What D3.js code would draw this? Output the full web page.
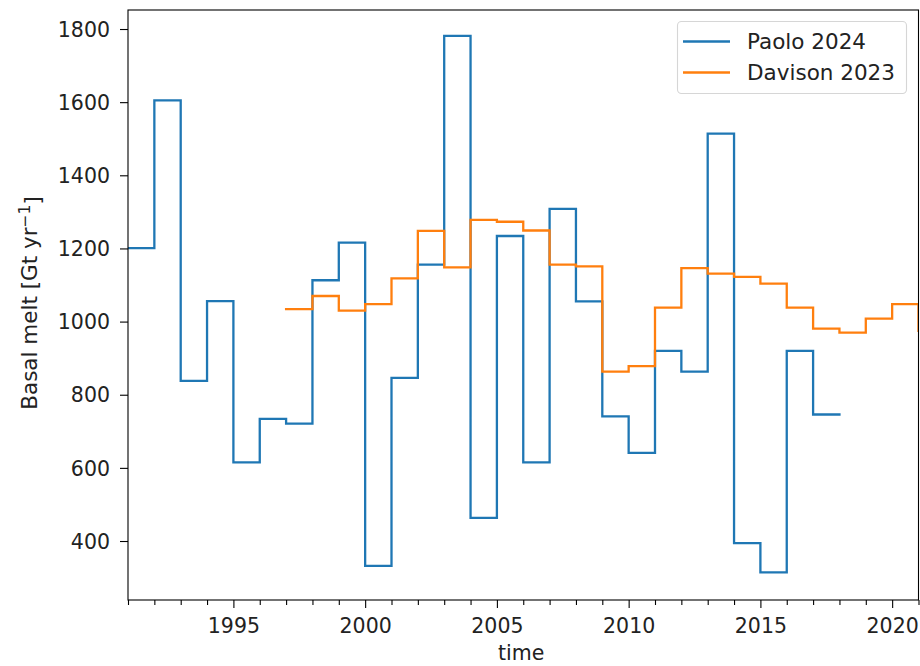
<!DOCTYPE html>
<html>
<head>
<meta charset="utf-8">
<script src="https://cdn.jsdelivr.net/npm/d3@7"></script>
<style>
  html, body { margin: 0; padding: 0; background: #fff; }
  svg { display: block; font-family: "DejaVu Sans", sans-serif; }
</style>
</head>
<body>
<svg id="chart" width="920" height="666"></svg>
<script>
// ---- data ----
const paoloYears = [1991,1992,1993,1994,1995,1996,1997,1998,1999,2000,2001,2002,2003,2004,2005,2006,2007,2008,2009,2010,2011,2012,2013,2014,2015,2016,2017];
const paoloValues = [1201,1605,838,1056,615,734,721,1113,1216,332,846,1156,1781,463,1234,615,1308,1055,741,641,920,863,1514,394,314,920,746];
const davisonYears = [1997,1998,1999,2000,2001,2002,2003,2004,2005,2006,2007,2008,2009,2010,2011,2012,2013,2014,2015,2016,2017,2018,2019,2020,2021];
const davisonValues = [1034,1070,1030,1048,1118,1248,1148,1278,1273,1249,1156,1151,863,878,1038,1146,1131,1122,1104,1038,981,970,1008,1048,975];
const seriesNames = ["Paolo 2024", "Davison 2023"];
const seriesColors = ["#1f77b4", "#ff7f0e"];
const xMajorTicks = [1995, 2000, 2005, 2010, 2015, 2020];
const yTicks = [400, 600, 800, 1000, 1200, 1400, 1600, 1800];
const xDomain = [1991, 2021];
const yDomain = [238.7, 1852];

// ---- layout ----
const svg = d3.select("#chart");
const L = 128, R = 918.5, T = 10, B = 600;
const x = d3.scaleLinear().domain(xDomain).range([L, R]);
const y = d3.scaleLinear().domain(yDomain).range([B, T]);
const textColor = "#222";
const fs = 20.5;
const fsLegend = 21.5;

svg.append("defs").append("clipPath").attr("id", "clip")
  .append("rect").attr("x", L).attr("y", T).attr("width", R - L).attr("height", B - T);

function stepPoints(years, values) {
  const pts = years.map((yr, i) => [yr, values[i]]);
  pts.push([years[years.length - 1] + 1, values[values.length - 1]]);
  return pts;
}

const line = d3.line()
  .x(d => x(d[0]))
  .y(d => y(d[1]))
  .curve(d3.curveStepAfter);

const plot = svg.append("g").attr("clip-path", "url(#clip)");
const series = [stepPoints(paoloYears, paoloValues), stepPoints(davisonYears, davisonValues)];
series.forEach((pts, i) => {
  plot.append("path")
    .attr("d", line(pts))
    .attr("fill", "none")
    .attr("stroke", seriesColors[i])
    .attr("stroke-width", 2.3)
    .attr("stroke-linejoin", "miter")
    .attr("stroke-linecap", "square");
});

// ---- axes ----
const xMinor = d3.range(xDomain[0], xDomain[1] + 1).filter(v => !xMajorTicks.includes(v));
const xAxisMinor = d3.axisBottom(x).tickValues(xMinor).tickSize(5).tickFormat("");
const xAxis = d3.axisBottom(x).tickValues(xMajorTicks).tickSize(8).tickPadding(10).tickFormat(d3.format("d"));
const yAxis = d3.axisLeft(y).tickValues(yTicks).tickSize(8).tickPadding(10).tickFormat(d3.format("d"));

const gxm = svg.append("g").attr("transform", `translate(0,${B})`).call(xAxisMinor);
gxm.select(".domain").remove();
gxm.selectAll(".tick line").attr("stroke", "#000").attr("stroke-width", 1.1);

const gx = svg.append("g").attr("transform", `translate(0,${B})`).call(xAxis);
gx.select(".domain").remove();
gx.selectAll(".tick line").attr("stroke", "#000").attr("stroke-width", 1.1);
gx.selectAll(".tick text").attr("font-size", fs).attr("fill", textColor).attr("font-family", "DejaVu Sans");

const gy = svg.append("g").attr("transform", `translate(${L},0)`).call(yAxis);
gy.select(".domain").remove();
gy.selectAll(".tick line").attr("stroke", "#000").attr("stroke-width", 1.1);
gy.selectAll(".tick text").attr("font-size", fs).attr("fill", textColor).attr("font-family", "DejaVu Sans").attr("dy", "0.35em");

// spines
svg.append("rect").attr("x", L).attr("y", T).attr("width", R - L).attr("height", B - T)
  .attr("fill", "none").attr("stroke", "#000").attr("stroke-width", 1.1);

// axis labels
svg.append("text").attr("x", (L + R) / 2 - 2).attr("y", 660)
  .attr("text-anchor", "middle").attr("font-size", fs).attr("fill", textColor).text("time");

const yl = svg.append("text")
  .attr("transform", `translate(37,${(T + B) / 2 - 2}) rotate(-90)`)
  .attr("text-anchor", "middle").attr("font-size", 21.5).attr("fill", textColor);
yl.append("tspan").text("Basal melt [Gt yr");
yl.append("tspan").attr("dy", "-0.45em").attr("font-size", 21.5 * 0.72).text("\u22121");
yl.append("tspan").attr("dy", "0.45em").text("]");

// ---- legend ----
const lg = svg.append("g");
lg.append("rect").attr("x", 677.5).attr("y", 21.5).attr("width", 229).attr("height", 72).attr("rx", 4)
  .attr("fill", "#fff").attr("fill-opacity", 0.8).attr("stroke", "#d6d6d6").attr("stroke-width", 1.1);
seriesNames.forEach((name, i) => {
  const cy = 41.5 + i * 31;
  lg.append("line").attr("x1", 683).attr("x2", 730).attr("y1", cy).attr("y2", cy)
    .attr("stroke", seriesColors[i]).attr("stroke-width", 2.3);
  lg.append("text").attr("x", 747).attr("y", cy).attr("dy", "0.35em")
    .attr("font-size", fsLegend).attr("fill", textColor).text(name);
});
</script>
</body>
</html>
